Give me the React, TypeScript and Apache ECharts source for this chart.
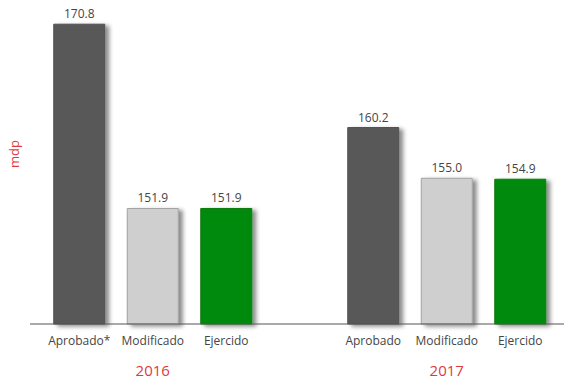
import React, { useEffect, useRef } from "react";
import * as echarts from "echarts";

const categories = ["Aprobado*", "Modificado", "Ejercido", "", "Aprobado", "Modificado", "Ejercido"];
const yearLabels = ["", "2016", "", "", "", "2017", ""];
const values: (number | string)[] = [170.8, 151.9, 151.9, "-", 160.2, 155.0, 154.9];
const barColors = ["#595959", "#d0cfd0", "#058a0b", "#ffffff", "#595959", "#d0cfd0", "#058a0b"];
const borderColors = ["#505050", "#a3a3a3", "#0b7a0d", "#ffffff", "#505050", "#a3a3a3", "#0b7a0d"];

const FONT = "'Open Sans', sans-serif";

export default function App() {
  const ref = useRef<HTMLDivElement>(null);
  useEffect(() => {
    document.body.style.margin = "0";
    const chart = echarts.init(ref.current!, null, { renderer: "svg" });
    chart.setOption({
      animation: false,
      backgroundColor: "#ffffff",
      grid: { left: 42.5, right: 7, top: 12, bottom: 54, containLabel: false, outerBoundsMode: "none" },
      xAxis: [
        {
          type: "category",
          data: categories,
          axisLine: { show: false },
          axisTick: { show: false },
          axisLabel: { color: "#454545", fontSize: 12, fontFamily: FONT, margin: 10, interval: 0 },
        },
        {
          type: "category",
          data: yearLabels,
          position: "bottom",
          offset: 28,
          axisLine: { show: false },
          axisTick: { show: false },
          axisLabel: { color: "#e0393e", fontSize: 15, fontFamily: FONT, margin: 10, interval: 0 },
        },
      ],
      yAxis: {
        type: "value",
        min: 140,
        max: 172,
        name: "mdp",
        nameLocation: "middle",
        nameGap: 22,
        nameRotate: 90,
        nameTextStyle: { color: "#e0393e", fontSize: 13, fontFamily: FONT, padding: [0, 0, 0, 28] },
        axisLine: { show: false },
        axisTick: { show: false },
        axisLabel: { show: false },
        splitLine: { show: false },
      },
      graphic: [
        {
          type: "line",
          z: 100,
          shape: { x1: 30, y1: 324, x2: 564, y2: 324 },
          style: { stroke: "#555555", lineWidth: 1.2 },
        },
      ],
      series: [
        {
          type: "bar",
          xAxisIndex: 0,
          barWidth: 52,
          data: values.map((v, i) => ({
            value: v,
            itemStyle: {
              color: barColors[i],
              borderColor: borderColors[i],
              borderWidth: 1,
              shadowColor: "rgba(0,0,0,0.45)",
              shadowBlur: 4,
              shadowOffsetX: 4,
              shadowOffsetY: 2,
            },
          })),
          label: {
            show: true,
            position: "top",
            distance: 4,
            color: "#454545",
            fontSize: 12,
            fontFamily: FONT,
            formatter: (p: any) => (typeof p.value === "number" ? p.value.toFixed(1) : ""),
          },
        },
      ],
    });
    return () => chart.dispose();
  }, []);
  return <div ref={ref} style={{ width: 564, height: 378 }} />;
}
